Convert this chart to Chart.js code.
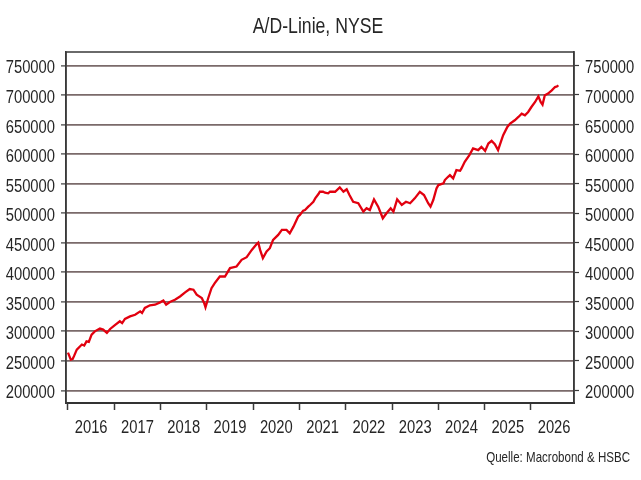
<!DOCTYPE html>
<html>
<head>
<meta charset="utf-8">
<script src="https://cdn.jsdelivr.net/npm/chart.js@4.4.1/dist/chart.umd.min.js"></script>
<style>
  html, body { margin: 0; padding: 0; background: #ffffff; }
  #wrap { width: 641px; height: 480px; position: relative; }
</style>
</head>
<body>
<div id="wrap"><canvas id="c"></canvas></div>
<script>
// ---- Data ----
const chartTitle = "A/D-Linie, NYSE";
const sourceNote = "Quelle: Macrobond & HSBC";

// Time as decimal year
const dates = [
  2016.00, 2016.03, 2016.06, 2016.10, 2016.13, 2016.19, 2016.30, 2016.35, 2016.40, 2016.45,
  2016.51, 2016.58, 2016.69, 2016.76, 2016.84, 2016.91, 2017.02, 2017.12, 2017.17, 2017.23,
  2017.34, 2017.45, 2017.56, 2017.60, 2017.66, 2017.77, 2017.88, 2017.99, 2018.06, 2018.12,
  2018.20, 2018.31, 2018.42, 2018.53, 2018.63, 2018.71, 2018.78, 2018.89, 2018.94, 2018.97,
  2019.03, 2019.10, 2019.17, 2019.28, 2019.39, 2019.50, 2019.64, 2019.75, 2019.86, 2019.97,
  2020.08, 2020.11, 2020.15, 2020.21, 2020.29, 2020.36, 2020.43, 2020.54, 2020.62, 2020.72,
  2020.79, 2020.87, 2020.97, 2021.01, 2021.08, 2021.12, 2021.19, 2021.23, 2021.30, 2021.34,
  2021.41, 2021.44, 2021.51, 2021.55, 2021.62, 2021.66, 2021.73, 2021.77, 2021.87, 2021.95,
  2022.02, 2022.08, 2022.16, 2022.27, 2022.38, 2022.45, 2022.52, 2022.61, 2022.70, 2022.80,
  2022.88, 2022.97, 2023.03, 2023.11, 2023.21, 2023.30, 2023.39, 2023.49, 2023.60, 2023.69,
  2023.78, 2023.83, 2023.89, 2023.96, 2024.00, 2024.11, 2024.14, 2024.21, 2024.25, 2024.32,
  2024.39, 2024.47, 2024.50, 2024.57, 2024.67, 2024.75, 2024.86, 2024.93, 2025.01, 2025.08,
  2025.15, 2025.22, 2025.29, 2025.35, 2025.40, 2025.49, 2025.55, 2025.65, 2025.73, 2025.80,
  2025.87, 2025.94, 2026.01, 2026.09, 2026.16, 2026.21, 2026.25, 2026.30, 2026.37, 2026.45,
  2026.52, 2026.57, 2026.59
];

const adLine = [
  264000, 258000, 252000, 253000, 258000, 269000, 277600, 276000, 283000, 282000,
  294500, 300000, 304600, 303000, 297300, 304000, 311000, 317000, 314000, 321000,
  325300, 328000, 333800, 331000, 339500, 344000, 345000, 349000, 352000, 345000,
  349600, 353500, 359000, 365800, 371600, 370400, 362000, 356400, 348000, 340500,
  356400, 373000, 381700, 392800, 392800, 407000, 409700, 421000, 425500, 437800,
  448000, 450200, 437800, 423900, 435000, 440700, 454700, 463200, 471600, 471600,
  466000, 477200, 494000, 497000, 504200, 505300, 511000, 513800, 519300, 525000,
  532300, 536200, 536200, 534500, 533500, 536200, 536200, 536200, 543600, 536200,
  540300, 530700, 519300, 516700, 502500, 508200, 505300, 523400, 511000, 491300,
  499800, 508200, 502500, 523400, 513800, 519300, 516700, 525000, 536200, 530700,
  516700, 511000, 522200, 542000, 547500, 550300, 556000, 561500, 564400, 558800,
  572800, 571600, 575700, 587000, 598100, 609400, 606600, 612200, 605400, 617800,
  622300, 616700, 606600, 620600, 631900, 645900, 651500, 657200, 662800, 668400,
  665600, 671200, 679600, 688100, 697700, 688100, 683600, 699400, 702300, 707900,
  713400, 714600, 716300
];

const yTickValues = [200000, 250000, 300000, 350000, 400000, 450000, 500000, 550000, 600000, 650000, 700000, 750000];
const yearLabels = ["2016", "2017", "2018", "2019", "2020", "2021", "2022", "2023", "2024", "2025", "2026"];

// ---- Chart ----
const FONT = "'Liberation Sans', Arial, sans-serif";
const NARROW = 0.82;          // horizontal condensing (Arial Narrow look)
const TEXT = "#262626";
const GRID = "#7a6a6a";
const AXIS = "#3a3a3a";

const yMin = 178700, yMax = 772700;
const xMin = 2015.957, xMax = 2026.93;

const points = dates.map((d, i) => ({ x: d, y: adLine[i] }));

// x ticks at year boundaries (tick marks)
const xTickValues = yearLabels.map(l => parseInt(l, 10));

function narrowText(ctx, text, x, y, align, size, sx) {
  ctx.save();
  ctx.font = size + "px " + FONT;
  ctx.fillStyle = TEXT;
  ctx.textBaseline = 'alphabetic';
  ctx.textAlign = align;
  ctx.translate(x, y);
  ctx.scale(sx, 1);
  ctx.fillText(text, 0, 0);
  ctx.restore();
}

const frameAndText = {
  id: 'frameAndText',
  afterDatasetsDraw(chart) {
    const { ctx, chartArea: a } = chart;
    ctx.save();
    ctx.strokeStyle = AXIS;
    ctx.lineWidth = 1.5;
    ctx.beginPath();
    ctx.moveTo(a.left, a.bottom);
    ctx.lineTo(a.left, a.top);
    ctx.lineTo(a.right, a.top);
    ctx.lineTo(a.right, a.bottom);
    ctx.stroke();
    ctx.restore();
  },
  afterDraw(chart) {
    const { ctx, scales } = chart;
    // title and source
    narrowText(ctx, chartTitle, 318, 33, 'center', 21.5, NARROW);
    narrowText(ctx, sourceNote, 630, 462, 'right', 15, 0.77);
    // y tick labels (left and right), positioned by the library's scales
    yTickValues.forEach(v => {
      const pyL = scales.y.getPixelForValue(v);
      narrowText(ctx, String(v), scales.y.right - 11, pyL + 8, 'right', 18, NARROW);
      const pyR = scales.y2.getPixelForValue(v);
      narrowText(ctx, String(v), scales.y2.left + 11, pyR + 8, 'left', 18, NARROW);
    });
    // x labels centred in each year
    yearLabels.forEach(l => {
      const px = scales.x.getPixelForValue(parseInt(l, 10) + 0.5);
      narrowText(ctx, l, px, 432.5, 'center', 18, NARROW);
    });
  }
};

new Chart(document.getElementById('c'), {
  type: 'line',
  data: {
    datasets: [{
      data: points,
      borderColor: '#e2000f',
      borderWidth: 2.3,
      pointRadius: 0,
      tension: 0,
      fill: false
    }]
  },
  options: {
    responsive: true,
    maintainAspectRatio: false,
    animation: false,
    layout: { padding: { top: 52, left: 0, right: 0, bottom: 0 } },
    plugins: { legend: { display: false }, title: { display: false }, tooltip: { enabled: false } },
    scales: {
      x: {
        type: 'linear',
        min: xMin, max: xMax,
        afterBuildTicks: s => { s.ticks = xTickValues.map(v => ({ value: v })); },
        afterFit: s => { s.height = 77; },
        grid: {
          drawOnChartArea: false,
          drawTicks: true,
          tickLength: 7,
          tickWidth: 1.5,
          tickColor: AXIS
        },
        border: { display: true, color: '#333333', width: 2 },
        ticks: { display: false, autoSkip: false, maxRotation: 0 }
      },
      y: {
        position: 'left',
        min: yMin, max: yMax,
        afterBuildTicks: s => { s.ticks = yTickValues.map(v => ({ value: v })); },
        afterFit: s => { s.width = 66; },
        grid: { color: GRID, lineWidth: 1.8, tickLength: 5, tickColor: AXIS, tickWidth: 1.2 },
        border: { display: true, color: AXIS, width: 1.5 },
        ticks: { display: false }
      },
      y2: {
        position: 'right',
        min: yMin, max: yMax,
        afterBuildTicks: s => { s.ticks = yTickValues.map(v => ({ value: v })); },
        afterFit: s => { s.width = 67; },
        grid: { drawOnChartArea: false, tickLength: 5, tickColor: AXIS, tickWidth: 1.2 },
        border: { display: true, color: AXIS, width: 1.5 },
        ticks: { display: false }
      }
    }
  },
  plugins: [frameAndText]
});
</script>
</body>
</html>
